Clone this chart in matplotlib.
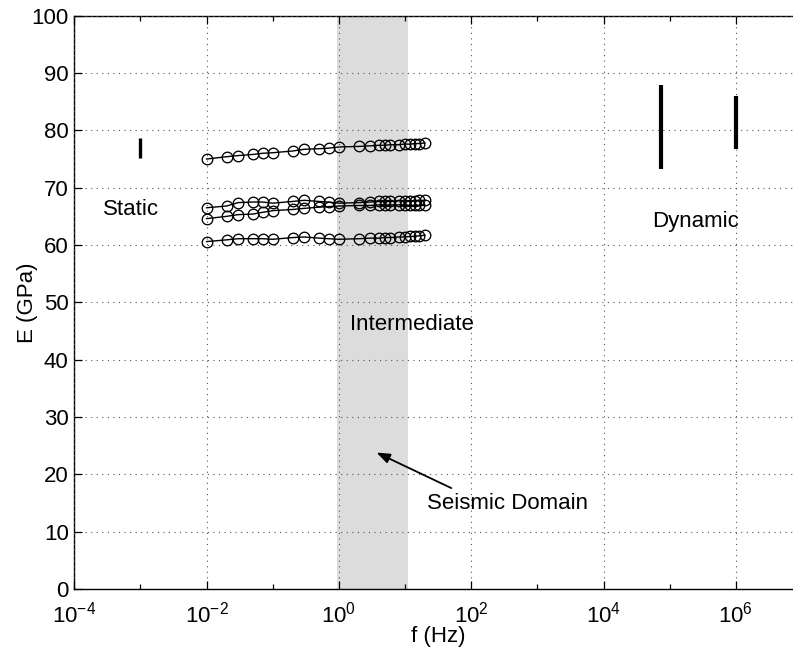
import numpy as np
import matplotlib
matplotlib.use("Agg")
import matplotlib.pyplot as plt
from matplotlib.ticker import FixedLocator, NullFormatter

plt.rcParams['font.family'] = ['Liberation Sans', 'DejaVu Sans']
plt.rcParams['mathtext.fontset'] = 'custom'
plt.rcParams['mathtext.rm'] = 'Liberation Sans'
plt.rcParams['mathtext.it'] = 'Liberation Sans'

# ---- data ----
freq = [0.01, 0.02, 0.03, 0.05, 0.07, 0.1, 0.2, 0.3, 0.5, 0.7,
        1, 2, 3, 4, 5, 6, 8, 10, 12, 14, 16, 20]
series_a = [75.0, 75.4, 75.6, 75.8, 76.0, 76.1, 76.4, 76.7, 76.8, 76.9,
            77.1, 77.2, 77.3, 77.4, 77.4, 77.5, 77.5, 77.6, 77.6, 77.7, 77.7, 77.8]
series_b = [66.5, 66.8, 67.4, 67.5, 67.5, 67.3, 67.6, 67.8, 67.6, 67.5,
            67.3, 67.4, 67.5, 67.6, 67.6, 67.6, 67.7, 67.7, 67.7, 67.7, 67.8, 67.8]
series_c = [64.6, 65.0, 65.3, 65.4, 65.7, 66.0, 66.2, 66.4, 66.6, 66.7,
            66.8, 66.9, 66.9, 67.0, 67.0, 67.0, 67.0, 67.0, 66.9, 66.9, 66.9, 66.9]
series_d = [60.6, 60.9, 61.1, 61.1, 61.1, 61.0, 61.3, 61.4, 61.2, 61.1,
            61.0, 61.1, 61.2, 61.2, 61.3, 61.3, 61.4, 61.4, 61.5, 61.5, 61.6, 61.7]

static_f = 1e-3
static_range = [75.2, 78.6]
dynamic_f = [7.5e4, 1e6]
dynamic_lo = [73.3, 76.8]
dynamic_hi = [87.9, 86.0]

seismic_band = [0.93, 10.9]

W, H = 793, 654
fig = plt.figure(figsize=(W / 100, H / 100), dpi=100)
left_px, right_px, top_px, bottom_px = 74.3, 802.0, 15.7, 589.0
ax = fig.add_axes([left_px / W, 1 - bottom_px / H,
                   (right_px - left_px) / W, (bottom_px - top_px) / H])

ax.set_xscale('log')
ax.set_xlim(1e-4, 1e7)
ax.set_ylim(0, 100)

ax.axvspan(seismic_band[0], seismic_band[1], color='#dcdcdc', lw=0, zorder=0)

for s in (series_a, series_b, series_c, series_d):
    ax.plot(freq, s, '-o', color='black', mfc='none', mec='black',
            ms=7.6, mew=0.95, lw=1.0, zorder=3)

ax.plot([static_f, static_f], static_range, color='black', lw=2.4,
        solid_capstyle='butt', zorder=3)
for f, lo, hi in zip(dynamic_f, dynamic_lo, dynamic_hi):
    ax.plot([f, f], [lo, hi], color='black', lw=3.0, solid_capstyle='butt', zorder=3)

fs = 16
ax.text(2.7e-4, 65.3, 'Static', fontsize=fs, ha='left', va='baseline')
ax.text(5.4e4, 63.2, 'Dynamic', fontsize=fs, ha='left', va='baseline')
ax.text(1.47, 45.2, 'Intermediate', fontsize=fs, ha='left', va='baseline')
ax.text(21.2, 13.9, 'Seismic Domain', fontsize=fs, ha='left', va='baseline')
ax.annotate('', xy=(3.7, 23.8), xytext=(50, 17.6),
            arrowprops=dict(arrowstyle='-|>,head_length=0.8,head_width=0.3',
                            color='black', lw=1.3, shrinkA=0, shrinkB=0))

# ticks
major = [10.0 ** k for k in range(-4, 8, 2)]
minor = [10.0 ** k for k in range(-3, 8, 2)]
ax.xaxis.set_major_locator(FixedLocator(major))
ax.xaxis.set_minor_locator(FixedLocator(minor))
ax.xaxis.set_minor_formatter(NullFormatter())
ax.set_xticklabels([r'$10^{%d}$' % k for k in range(-4, 8, 2)])
ax.set_yticks(np.arange(0, 101, 10))

ax.tick_params(which='both', direction='in', top=True, right=True,
               labelsize=fs, width=0.9, color='black')
ax.tick_params(which='major', length=6)
ax.tick_params(which='minor', length=3.5)
ax.tick_params(axis='x', pad=9)
ax.tick_params(axis='y', pad=4)

ax.grid(True, which='major', linestyle=(0, (1, 4)), color='#555555', lw=0.8)
ax.set_axisbelow(False)
for sp in ax.spines.values():
    sp.set_linewidth(1.0)

ax.set_xlabel('f (Hz)', fontsize=fs, labelpad=-1)
ax.set_ylabel('E (GPa)', fontsize=fs, labelpad=-5)

fig.savefig('out.png', dpi=100)
